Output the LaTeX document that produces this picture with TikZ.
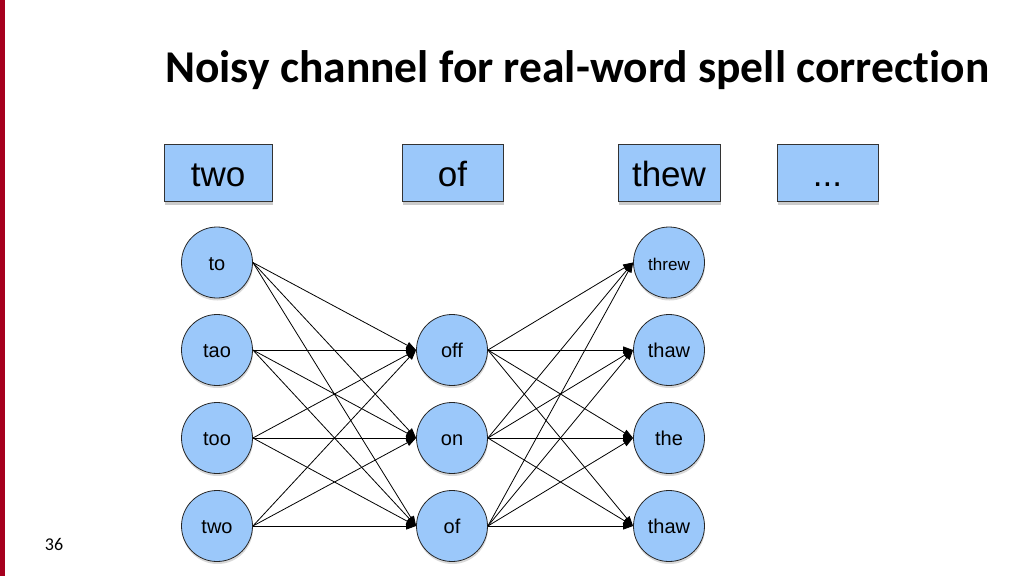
\documentclass[tikz,border=0pt]{standalone}
\usepackage{fontspec}
\setmainfont{Liberation Sans}
\newfontfamily\titlefont[Ligatures=NoCommon]{Carlito}
\usetikzlibrary{shadows,arrows.meta}
\definecolor{nodeblue}{RGB}{155,200,250}
\definecolor{barred}{RGB}{166,0,30}
\begin{document}
\begin{tikzpicture}[x=1pt,y=-1pt,
  wordbox/.style={draw=black!80, line width=0.8pt, fill=nodeblue, minimum height=57pt, inner sep=0pt,
    text height=27.4pt, text depth=0pt,
    font=\fontsize{35}{40}\selectfont,
    drop shadow={shadow xshift=1pt,shadow yshift=-3pt,opacity=0.4}},
  cand/.style={circle, draw=black!85, line width=0.8pt, fill=nodeblue, minimum size=71pt, inner sep=0pt,
    text height=15.8pt, text depth=0pt,
    font=\fontsize{20}{24}\selectfont,
    drop shadow={shadow xshift=0.5pt,shadow yshift=-2.5pt,opacity=0.3}},
  link/.style={-{Triangle[length=10pt,width=7pt]}, line width=0.8pt}
]
\useasboundingbox (0,0) rectangle (1024,576);
\fill[barred] (0,0) rectangle (5,576);
\node[anchor=base west, inner sep=0pt, font=\titlefont\bfseries\fontsize{45.5}{52}\selectfont] (title) at (165,82) {Noisy channel for real-word spell correction};
\node[anchor=center, inner sep=0pt, font=\titlefont\fontsize{18}{20}\selectfont] (page) at (54,544) {36};

\node[wordbox, minimum width=108pt] (b1) at (218,173) {two};
\node[wordbox, minimum width=101pt] (b2) at (452.5,173) {of};
\node[wordbox, minimum width=102pt] (b3) at (669,173) {thew};
\node[wordbox, minimum width=101pt] (b4) at (827.5,173) {...};

\node[cand] (l1) at (217,262.5) {to};
\node[cand] (l2) at (217,350) {tao};
\node[cand] (l3) at (217,438) {too};
\node[cand] (l4) at (217,526) {two};

\node[cand] (m1) at (452,350) {off};
\node[cand] (m2) at (452,438) {on};
\node[cand] (m3) at (452,526) {of};

\node[cand, font=\fontsize{17}{20}\selectfont] (r1) at (669,262.5) {threw};
\node[cand] (r2) at (669,350) {thaw};
\node[cand] (r3) at (669,438) {the};
\node[cand] (r4) at (669,526) {thaw};

\foreach \a in {l1,l2,l3,l4}{
  \foreach \b in {m1,m2,m3}{
    \draw[link] (\a.east) -- (\b.west);
  }
}
\foreach \a in {m1,m2,m3}{
  \foreach \b in {r1,r2,r3,r4}{
    \draw[link] (\a.east) -- (\b.west);
  }
}
\end{tikzpicture}
\end{document}
